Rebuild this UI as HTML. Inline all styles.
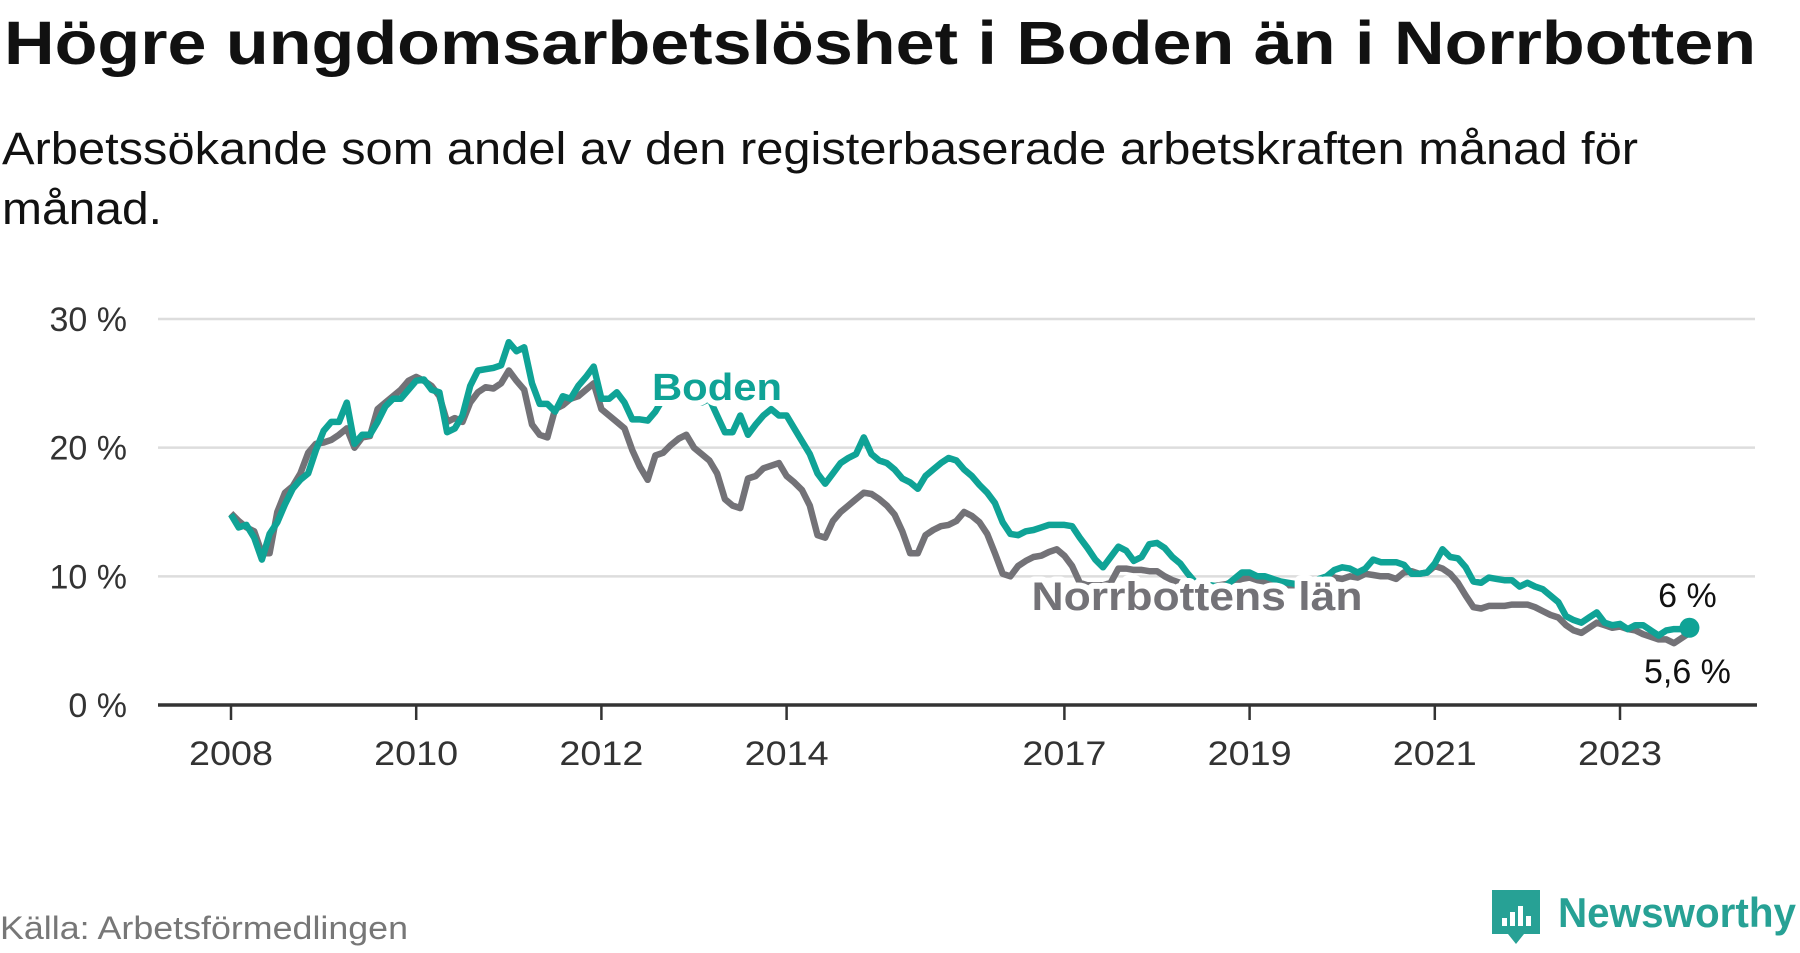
<!DOCTYPE html>
<html><head><meta charset="utf-8">
<style>
html,body{margin:0;padding:0;background:#fff;}
body{width:1800px;height:948px;overflow:hidden;font-family:"Liberation Sans",sans-serif;}
text{font-family:"Liberation Sans",sans-serif;}
</style></head>
<body>
<svg id="chart" width="1800" height="948" viewBox="0 0 1800 948" xmlns="http://www.w3.org/2000/svg">
  <text x="4" y="64" font-size="61" font-weight="bold" fill="#111" textLength="1752" lengthAdjust="spacingAndGlyphs">Högre ungdomsarbetslöshet i Boden än i Norrbotten</text>
  <text x="2" y="164" font-size="45" fill="#111" textLength="1636" lengthAdjust="spacingAndGlyphs">Arbetssökande som andel av den registerbaserade arbetskraften månad för</text>
  <text x="2" y="224" font-size="45" fill="#111" textLength="160" lengthAdjust="spacingAndGlyphs">månad.</text>
  <g id="grid"></g>
  <g id="yticks"></g>
  <g id="xaxis"></g>
  <g id="series"></g>
  <g id="labels"></g>
  <text x="0" y="939" font-size="32" fill="#777" textLength="408" lengthAdjust="spacingAndGlyphs">Källa: Arbetsförmedlingen</text>
  <g>
    <path d="M1492 890 h48 v44 h-16 l-8 10 l-8 -10 h-16 z" fill="#27a195"/>
    <rect x="1502" y="918" width="5" height="8" fill="#fff"/>
    <rect x="1510" y="912" width="5" height="14" fill="#fff"/>
    <rect x="1518" y="906" width="5" height="20" fill="#fff"/>
    <rect x="1526" y="916" width="5" height="10" fill="#fff"/>
    <text x="1558" y="927" font-size="42" font-weight="bold" fill="#27a195" textLength="238" lengthAdjust="spacingAndGlyphs">Newsworthy</text>
  </g>
</svg>
<script>
const yTicks = [0, 10, 20, 30];
const yTickLabels = ["0 %", "10 %", "20 %", "30 %"];
const xTickYears = [2008, 2010, 2012, 2014, 2017, 2019, 2021, 2023];
const startYear = 2008;
const boden = [
14.8,13.8,14.0,13.0,11.3,13.3,14.2,15.6,16.8,17.5,18.0,19.8,
21.3,22.0,22.0,23.5,20.3,21.0,21.0,22.0,23.2,23.8,23.8,24.5,
25.2,25.3,24.5,24.3,21.2,21.5,22.5,24.8,26.0,26.1,26.2,26.4,
28.2,27.5,27.8,25.0,23.4,23.4,22.8,24.0,23.8,24.8,25.5,26.3,
23.8,23.8,24.3,23.5,22.2,22.2,22.1,22.8,23.8,24.5,24.8,24.5,
24.0,23.5,23.8,22.5,21.2,21.2,22.5,21.0,21.8,22.5,23.0,22.5,
22.5,21.5,20.5,19.5,18.0,17.2,18.0,18.8,19.2,19.5,20.8,19.5,
19.0,18.8,18.3,17.6,17.3,16.8,17.8,18.3,18.8,19.2,19.0,18.3,
17.8,17.1,16.5,15.7,14.2,13.3,13.2,13.5,13.6,13.8,14.0,14.0,
14.0,13.9,13.0,12.2,11.3,10.7,11.5,12.3,12.0,11.2,11.5,12.5,
12.6,12.2,11.5,11.0,10.2,9.5,9.3,9.3,9.2,9.3,9.8,10.3,
10.3,10.0,10.0,9.8,9.6,9.5,9.4,9.4,9.5,9.8,10.0,10.5,
10.7,10.6,10.3,10.6,11.3,11.1,11.1,11.1,10.9,10.2,10.2,10.3,
11.0,12.1,11.5,11.4,10.7,9.6,9.5,9.9,9.8,9.7,9.7,9.2,
9.5,9.2,9.0,8.5,8.0,6.9,6.6,6.4,6.8,7.2,6.4,6.2,
6.3,5.9,6.2,6.2,5.8,5.4,5.8,5.9,5.9,6.0
];
const norrbotten = [
14.9,14.3,13.8,13.5,11.8,11.8,15.0,16.5,17.0,18.0,19.6,20.3,
20.4,20.6,21.0,21.5,20.0,20.8,20.9,23.0,23.5,24.0,24.5,25.2,
25.5,25.2,24.8,24.0,22.0,22.3,22.0,23.5,24.3,24.7,24.6,25.0,
26.0,25.2,24.5,21.8,21.0,20.8,23.0,23.3,23.8,24.0,24.5,25.0,
23.0,22.5,22.0,21.5,19.8,18.5,17.5,19.4,19.6,20.2,20.7,21.0,
20.0,19.5,19.0,18.0,16.0,15.5,15.3,17.6,17.8,18.4,18.6,18.8,
17.8,17.3,16.7,15.5,13.2,13.0,14.3,15.0,15.5,16.0,16.5,16.4,
16.0,15.5,14.8,13.5,11.8,11.8,13.2,13.6,13.9,14.0,14.3,15.0,
14.7,14.2,13.3,11.8,10.2,10.0,10.8,11.2,11.5,11.6,11.9,12.1,
11.6,10.8,9.5,9.3,9.3,9.3,9.5,10.6,10.6,10.5,10.5,10.4,
10.4,10.0,9.7,9.5,9.3,9.2,9.1,9.2,9.3,9.4,9.6,9.8,
9.9,9.7,9.6,9.5,9.4,9.3,9.3,9.2,9.4,9.6,9.8,9.9,
9.8,10.0,9.9,10.2,10.1,10.0,10.0,9.8,10.3,10.4,10.2,10.3,
10.8,10.6,10.2,9.5,8.5,7.6,7.5,7.7,7.7,7.7,7.8,7.8,
7.8,7.6,7.3,7.0,6.8,6.2,5.8,5.6,6.0,6.4,6.2,6.0,
6.1,5.9,5.8,5.5,5.3,5.1,5.1,4.8,5.2,5.6
];
const bodenLast = "6 %";
const norrLast = "5,6 %";

const NS = "http://www.w3.org/2000/svg";
const X0 = 231, PX_PER_YEAR = 92.6, Y0 = 705, PX_PER_PCT = (705 - 319) / 30;
const xScale = i => X0 + (i / 12) * PX_PER_YEAR;
const xYear = yr => X0 + (yr - startYear) * PX_PER_YEAR;
const yScale = v => Y0 - v * PX_PER_PCT;
function mk(tag, attrs, parent) { const e = document.createElementNS(NS, tag); for (const k in attrs) e.setAttribute(k, attrs[k]); parent.appendChild(e); return e; }

const grid = document.getElementById('grid');
const yt = document.getElementById('yticks');
yTicks.forEach((t, i) => {
  if (t > 0) {
    const l = mk('line', {x1:158, x2:1755, y1:yScale(t), y2:yScale(t), stroke:'#dddddd', 'stroke-width':2.5}, grid);
    
    
  }
  const tx = mk('text', {x:127, y:yScale(t)+12, 'font-size':34, fill:'#333', 'text-anchor':'end'}, yt);
  tx.textContent = yTickLabels[i];
  
  
});
const xa = document.getElementById('xaxis');
xTickYears.forEach(yr => {
  const tk = mk('line', {x1:xYear(yr), x2:xYear(yr), y1:Y0, y2:Y0+15, stroke:'#333', 'stroke-width':2.5}, xa);
  
  
  const tx = mk('text', {x:xYear(yr), y:765, 'font-size':34, fill:'#333', 'text-anchor':'middle', textLength:84, lengthAdjust:'spacingAndGlyphs'}, xa);
  tx.textContent = yr;
  
  
});
const axl = mk('line', {x1:158, x2:1757, y1:Y0, y2:Y0, stroke:'#333', 'stroke-width':3.5}, xa);



const ser = document.getElementById('series');
function pathOf(arr) { return arr.map((v, i) => (i ? 'L' : 'M') + xScale(i).toFixed(1) + ' ' + yScale(v).toFixed(1)).join(' '); }
const pn = mk('path', {d:pathOf(norrbotten), fill:'none', stroke:'#737277', 'stroke-width':6.5, 'stroke-linejoin':'round'}, ser);


const pb = mk('path', {d:pathOf(boden), fill:'none', stroke:'#0fa396', 'stroke-width':6.5, 'stroke-linejoin':'round'}, ser);


const lastI = boden.length - 1;
const dot = mk('circle', {cx:xScale(lastI), cy:yScale(boden[lastI]), r:10, fill:'#0fa396'}, ser);



const lab = document.getElementById('labels');
const halo = {stroke:'#fff', 'stroke-width':12, 'paint-order':'stroke', 'stroke-linejoin':'round'};
const bl = mk('text', Object.assign({x:717, y:400, 'font-size':38, 'font-weight':'bold', fill:'#0fa396', 'text-anchor':'middle', textLength:130, lengthAdjust:'spacingAndGlyphs'}, halo), lab);
bl.textContent = 'Boden';


const nl = mk('text', Object.assign({x:1197, y:610, 'font-size':40, 'font-weight':'bold', fill:'#737277', 'text-anchor':'middle', textLength:331, lengthAdjust:'spacingAndGlyphs'}, halo), lab);
nl.textContent = 'Norrbottens län';


const v1 = mk('text', Object.assign({x:xScale(lastI)-2, y:yScale(boden[lastI])-21, 'font-size':34, fill:'#111', 'text-anchor':'middle'}, {stroke:'#fff','stroke-width':8,'paint-order':'stroke'}), lab);
v1.textContent = bodenLast;


const v2 = mk('text', Object.assign({x:xScale(lastI)-2, y:yScale(norrbotten[lastI])+50, 'font-size':34, fill:'#111', 'text-anchor':'middle'}, {stroke:'#fff','stroke-width':8,'paint-order':'stroke'}), lab);
v2.textContent = norrLast;


</script>
</body></html>
